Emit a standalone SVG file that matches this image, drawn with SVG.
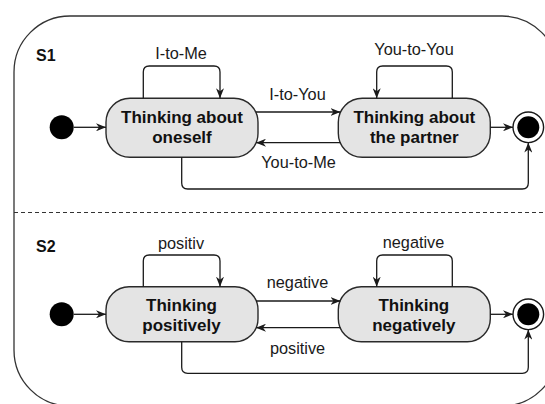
<svg xmlns="http://www.w3.org/2000/svg" width="545" height="404" viewBox="0 0 545 404">
<defs>
<marker id="ah" viewBox="0 0 10 8" refX="10" refY="4" markerWidth="10" markerHeight="8" markerUnits="userSpaceOnUse" orient="auto">
<path d="M0,0 L10,4 L0,8 L3,4 z" fill="#1a1a1a"/>
</marker>
<style>
.frame{fill:none;stroke:#333;stroke-width:1.3}
.sep{fill:none;stroke:#333;stroke-width:1.2;stroke-dasharray:4 3}
.node{fill:#e4e4e4;stroke:#2a2a2a;stroke-width:1.4}
.nt{font-family:"Liberation Sans",Arial,sans-serif;font-size:17px;font-weight:bold;fill:#111;text-anchor:middle}
.lbl{font-family:"Liberation Sans",Arial,sans-serif;font-size:16.3px;fill:#1a1a1a;text-anchor:middle}
.sec{font-family:"Liberation Sans",Arial,sans-serif;font-size:16px;font-weight:bold;fill:#111}
.edge{fill:none;stroke:#1a1a1a;stroke-width:1.3;marker-end:url(#ah)}
.init{fill:#000}
.fin-o{fill:#fff;stroke:#1a1a1a;stroke-width:1.4}
.fin-i{fill:#000}
</style>
</defs>
<rect width="545" height="404" fill="#fff"/>
<path class="frame" d="M14,72 A56,56 0 0 1 70,16 H502 A56,56 0 0 1 558,72 V350 A56,56 0 0 1 502,406 H70 A56,56 0 0 1 14,350 Z"/>
<line class="sep" x1="14" y1="212.5" x2="545" y2="212.5"/>
<text class="sec" x="36" y="61">S1</text>
<text class="sec" x="36" y="252">S2</text>

<g id="s1-initial"><circle class="init" cx="61.7" cy="127.3" r="12"/></g>
<g id="s1-oneself">
<rect class="node" x="106" y="98.3" width="152" height="59" rx="24" ry="24"/>
<text class="nt" x="182" y="123.3">Thinking about</text>
<text class="nt" x="182" y="143.3">oneself</text>
</g>
<g id="s1-partner">
<rect class="node" x="338.3" y="98.3" width="152" height="59" rx="24" ry="24"/>
<text class="nt" x="414.3" y="123.3">Thinking about</text>
<text class="nt" x="414.3" y="143.3">the partner</text>
</g>
<g id="s1-final"><circle class="fin-o" cx="528.3" cy="127.3" r="15.3"/><circle class="fin-i" cx="528.3" cy="127.3" r="11"/></g>

<g id="s2-initial"><circle class="init" cx="61.7" cy="314.3" r="12"/></g>
<g id="s2-positive">
<rect class="node" x="106" y="286.7" width="152" height="55" rx="23" ry="23"/>
<text class="nt" x="181.5" y="311">Thinking</text>
<text class="nt" x="181.5" y="331">positively</text>
</g>
<g id="s2-negative">
<rect class="node" x="338.3" y="286.7" width="152" height="55" rx="23" ry="23"/>
<text class="nt" x="413.8" y="311">Thinking</text>
<text class="nt" x="413.8" y="331">negatively</text>
</g>
<g id="s2-final"><circle class="fin-o" cx="528.3" cy="314.3" r="15.3"/><circle class="fin-i" cx="528.3" cy="314.3" r="11"/></g>

<g id="connectors">
<path class="edge" d="M74,127.3 H106"/>
<path class="edge" d="M143.3,98.3 V72 Q143.3,66 149.3,66 H214 Q220,66 220,72 V98.3"/>
<path class="edge" d="M452.3,98.3 V72 Q452.3,66 446.3,66 H382.7 Q376.7,66 376.7,72 V98.3"/>
<path class="edge" d="M256,112 H340.5"/>
<path class="edge" d="M340.5,142.7 H256"/>
<path class="edge" d="M490.3,127.3 H513"/>
<path class="edge" d="M181.7,157.3 V183 Q181.7,189 187.7,189 H522.3 Q528.3,189 528.3,183 V142.6"/>

<path class="edge" d="M74,314.3 H106"/>
<path class="edge" d="M143.3,286.7 V261 Q143.3,255 149.3,255 H214 Q220,255 220,261 V286.7"/>
<path class="edge" d="M452.3,286.7 V261 Q452.3,255 446.3,255 H382.7 Q376.7,255 376.7,261 V286.7"/>
<path class="edge" d="M256,301 H340.5"/>
<path class="edge" d="M340.5,327.7 H256"/>
<path class="edge" d="M490.3,314.3 H513"/>
<path class="edge" d="M181.7,341.7 V367.3 Q181.7,373.3 187.7,373.3 H522.3 Q528.3,373.3 528.3,367.3 V329.6"/>

<text class="lbl" x="181" y="59">I-to-Me</text>
<text class="lbl" x="414" y="55">You-to-You</text>
<text class="lbl" x="297.5" y="100">I-to-You</text>
<text class="lbl" x="298.5" y="168">You-to-Me</text>
<text class="lbl" x="181" y="249">positiv</text>
<text class="lbl" x="413.5" y="248">negative</text>
<text class="lbl" x="297.5" y="288">negative</text>
<text class="lbl" x="297.5" y="354">positive</text>
</g>
</svg>
